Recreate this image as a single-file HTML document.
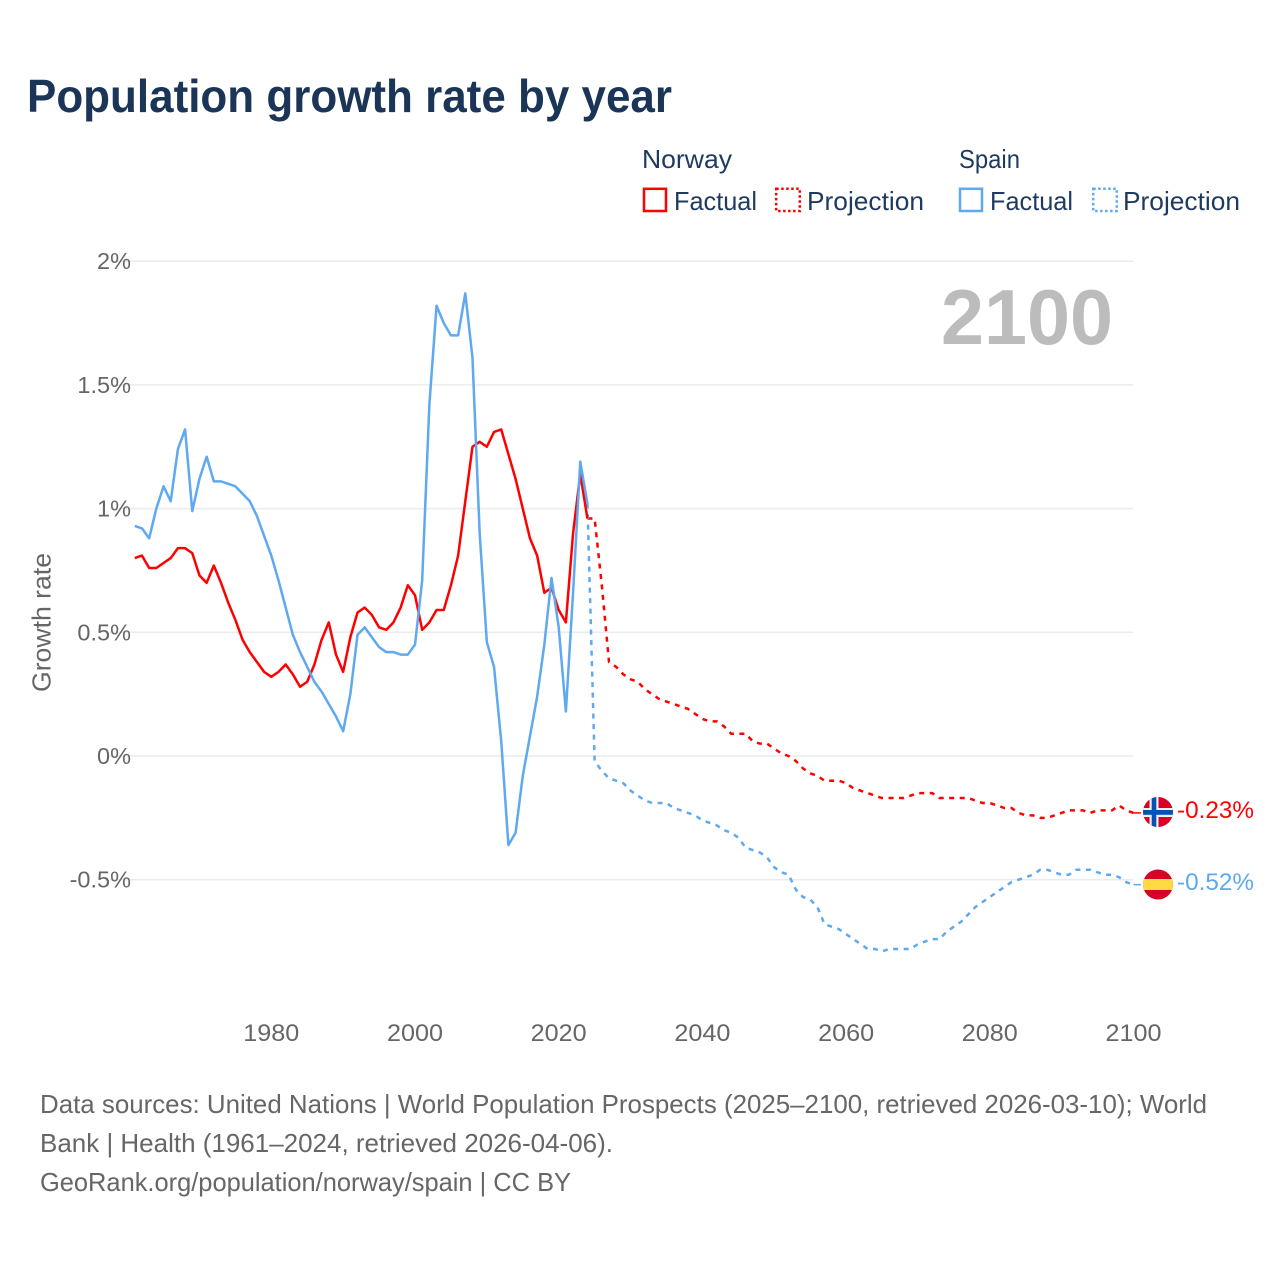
<!DOCTYPE html>
<html lang="en">
<head>
<meta charset="utf-8">
<title>Population growth rate by year</title>
<style>
html,body{margin:0;padding:0;background:#fff;}
svg{display:block;font-family:"Liberation Sans",sans-serif;}
</style>
</head>
<body>
<svg id="chart" width="1280" height="1280" viewBox="0 0 1280 1280" xmlns="http://www.w3.org/2000/svg">
  <defs>
    <clipPath id="clip-no"><circle cx="1158" cy="812" r="15"/></clipPath>
    <clipPath id="clip-es"><circle cx="1158" cy="884.5" r="15"/></clipPath>
  </defs>
  <rect width="1280" height="1280" fill="#fff"/>
  <text x="27" y="112" font-size="46" font-weight="700" fill="#1a3557" textLength="645" lengthAdjust="spacingAndGlyphs">Population growth rate by year</text>

  <g font-size="26" fill="#1f3a5f">
    <text x="642" y="168" textLength="90" lengthAdjust="spacingAndGlyphs">Norway</text>
    <text x="959" y="168" textLength="61" lengthAdjust="spacingAndGlyphs">Spain</text>
    <rect x="644" y="188.8" width="22" height="22.2" fill="none" stroke="#ff0000" stroke-width="2.5"/>
    <text x="674" y="210" textLength="83" lengthAdjust="spacingAndGlyphs">Factual</text>
    <rect x="776.2" y="188.8" width="23.6" height="22.2" fill="none" stroke="#ff0000" stroke-width="2.5" stroke-dasharray="2.5 2.5"/>
    <text x="807" y="210" textLength="117" lengthAdjust="spacingAndGlyphs">Projection</text>
    <rect x="960" y="188.8" width="22" height="22.2" fill="none" stroke="#5ea9ef" stroke-width="2.5"/>
    <text x="990" y="210" textLength="83" lengthAdjust="spacingAndGlyphs">Factual</text>
    <rect x="1093.2" y="188.8" width="23.6" height="22.2" fill="none" stroke="#5ea9ef" stroke-width="2.5" stroke-dasharray="2.5 2.5"/>
    <text x="1123" y="210" textLength="117" lengthAdjust="spacingAndGlyphs">Projection</text>
  </g>

  <g id="grid"></g>
  <g id="yticks"></g>
  <g id="xticks"></g>
  <text transform="translate(50.5,692) rotate(-90)" font-size="26" fill="#666" textLength="139" lengthAdjust="spacingAndGlyphs">Growth rate</text>
  <text x="941" y="344" font-size="78" font-weight="700" fill="#bcbcbc" textLength="172" lengthAdjust="spacingAndGlyphs">2100</text>

  <g id="series"></g>

  <g clip-path="url(#clip-no)">
    <rect x="1143" y="797" width="30" height="30" fill="#d80027"/>
    <rect x="1149.5" y="797" width="9" height="30" fill="#f0f0f0"/>
    <rect x="1143" y="808" width="30" height="9" fill="#f0f0f0"/>
    <rect x="1151.7" y="797" width="4.6" height="30" fill="#0052b4"/>
    <rect x="1143" y="810" width="30" height="4.8" fill="#0052b4"/>
  </g>
  <g clip-path="url(#clip-es)">
    <rect x="1143" y="869" width="30" height="31" fill="#d80027"/>
    <rect x="1143" y="879" width="30" height="11" fill="#ffda44"/>
  </g>
  <text x="1177" y="818" font-size="24" fill="#ff0000" textLength="77" lengthAdjust="spacingAndGlyphs">-0.23%</text>
  <text x="1177" y="890" font-size="24" fill="#5ea9ef" textLength="77" lengthAdjust="spacingAndGlyphs">-0.52%</text>

  <g font-size="26" fill="#666">
    <text x="40" y="1113" textLength="1167" lengthAdjust="spacingAndGlyphs">Data sources: United Nations | World Population Prospects (2025–2100, retrieved 2026-03-10); World</text>
    <text x="40" y="1152" textLength="573" lengthAdjust="spacingAndGlyphs">Bank | Health (1961–2024, retrieved 2026-04-06).</text>
    <text x="40" y="1191" textLength="531" lengthAdjust="spacingAndGlyphs">GeoRank.org/population/norway/spain | CC BY</text>
  </g>
</svg>
<script>
const yTickValues = [2, 1.5, 1, 0.5, 0, -0.5];
const yTickLabels = ["2%", "1.5%", "1%", "0.5%", "0%", "-0.5%"];
const xTickYears = [1980, 2000, 2020, 2040, 2060, 2080, 2100];
const factualStartYear = 1961;
const projectionStartYear = 2024;
const norwayFactual = [0.80,0.81,0.76,0.76,0.78,0.80,0.84,0.84,0.82,0.73,0.70,0.77,0.70,0.62,0.55,0.47,0.42,0.38,0.34,0.32,0.34,0.37,0.33,0.28,0.30,0.37,0.47,0.54,0.41,0.34,0.48,0.58,0.60,0.57,0.52,0.51,0.54,0.60,0.69,0.65,0.51,0.54,0.59,0.59,0.69,0.81,1.03,1.25,1.27,1.25,1.31,1.32,1.22,1.12,1.00,0.88,0.81,0.66,0.68,0.59,0.54,0.90,1.14,0.96];
const spainFactual = [0.93,0.92,0.88,1.00,1.09,1.03,1.24,1.32,0.99,1.12,1.21,1.11,1.11,1.10,1.09,1.06,1.03,0.97,0.89,0.81,0.71,0.60,0.49,0.42,0.36,0.30,0.26,0.21,0.16,0.10,0.25,0.49,0.52,0.48,0.44,0.42,0.42,0.41,0.41,0.45,0.71,1.42,1.82,1.75,1.70,1.70,1.87,1.61,0.90,0.46,0.36,0.06,-0.36,-0.31,-0.08,0.08,0.24,0.45,0.72,0.52,0.18,0.66,1.19,1.02];
const norwayProjection = [0.96,0.96,0.69,0.38,0.36,0.33,0.31,0.30,0.27,0.25,0.23,0.22,0.21,0.20,0.19,0.17,0.15,0.14,0.14,0.12,0.09,0.09,0.09,0.06,0.05,0.05,0.03,0.01,0.00,-0.02,-0.05,-0.07,-0.08,-0.10,-0.10,-0.10,-0.11,-0.13,-0.14,-0.15,-0.16,-0.17,-0.17,-0.17,-0.17,-0.16,-0.15,-0.15,-0.15,-0.17,-0.17,-0.17,-0.17,-0.17,-0.18,-0.19,-0.19,-0.20,-0.21,-0.21,-0.23,-0.24,-0.24,-0.25,-0.25,-0.24,-0.23,-0.22,-0.22,-0.22,-0.23,-0.22,-0.22,-0.22,-0.20,-0.22,-0.23];
const spainProjection = [1.02,-0.02,-0.06,-0.09,-0.10,-0.11,-0.14,-0.16,-0.18,-0.19,-0.19,-0.19,-0.21,-0.22,-0.23,-0.24,-0.26,-0.27,-0.28,-0.30,-0.31,-0.33,-0.37,-0.38,-0.39,-0.41,-0.45,-0.47,-0.48,-0.54,-0.57,-0.58,-0.61,-0.68,-0.69,-0.70,-0.72,-0.74,-0.76,-0.78,-0.78,-0.79,-0.78,-0.78,-0.78,-0.78,-0.76,-0.75,-0.74,-0.74,-0.71,-0.69,-0.67,-0.64,-0.61,-0.59,-0.57,-0.55,-0.53,-0.51,-0.50,-0.49,-0.48,-0.46,-0.46,-0.47,-0.48,-0.48,-0.46,-0.46,-0.46,-0.47,-0.48,-0.48,-0.49,-0.51,-0.52];

const SVGNS = "http://www.w3.org/2000/svg";
const RED = "#ff0000";
const BLUE = "#5ea9ef";
const connectorEndX = 1141;
function xScale(year) { return 1133.5 - (2100 - year) * 7.185; }
function yScale(value) { return 756 - value * 247.4; }

const gridGroup = document.getElementById("grid");
const yTickGroup = document.getElementById("yticks");
const xTickGroup = document.getElementById("xticks");
const seriesGroup = document.getElementById("series");

yTickValues.forEach(function (v, i) {
  const line = document.createElementNS(SVGNS, "line");
  
  
  line.setAttribute("x1", 110);
  line.setAttribute("x2", 1133);
  line.setAttribute("y1", yScale(v));
  line.setAttribute("y2", yScale(v));
  line.setAttribute("stroke", "#ebebeb");
  line.setAttribute("stroke-width", "1.5");
  gridGroup.appendChild(line);

  const t = document.createElementNS(SVGNS, "text");
  
  
  t.setAttribute("x", 131);
  t.setAttribute("y", yScale(v) + 8);
  t.setAttribute("text-anchor", "end");
  t.setAttribute("font-size", "23.5");
  t.setAttribute("fill", "#666");
  t.textContent = yTickLabels[i];
  yTickGroup.appendChild(t);
});

xTickYears.forEach(function (year) {
  const t = document.createElementNS(SVGNS, "text");
  
  
  t.setAttribute("x", xScale(year));
  t.setAttribute("y", 1041);
  t.setAttribute("text-anchor", "middle");
  t.setAttribute("font-size", "24.5");
  t.setAttribute("fill", "#666");
  t.setAttribute("textLength", "56");
  t.setAttribute("lengthAdjust", "spacingAndGlyphs");
  t.textContent = String(year);
  xTickGroup.appendChild(t);
});

function linePath(values, startYear) {
  return values.map(function (v, i) {
    return (i ? "L" : "M") + xScale(startYear + i).toFixed(2) + " " + yScale(v).toFixed(2);
  }).join(" ");
}

function addSeries(values, startYear, color, dashed) {
  const p = document.createElementNS(SVGNS, "path");
  p.setAttribute("d", linePath(values, startYear));
  p.setAttribute("fill", "none");
  p.setAttribute("stroke", color);
  p.setAttribute("stroke-width", "2.5");
  p.setAttribute("stroke-linejoin", "round");
  if (dashed) p.setAttribute("stroke-dasharray", "5 5.5");
  seriesGroup.appendChild(p);
  return p;
}

function addConnector(value, color) {
  const c = document.createElementNS(SVGNS, "line");
  c.setAttribute("x1", xScale(2100));
  c.setAttribute("x2", connectorEndX);
  c.setAttribute("y1", yScale(value));
  c.setAttribute("y2", yScale(value));
  c.setAttribute("stroke", color);
  c.setAttribute("stroke-width", "1.5");
  seriesGroup.appendChild(c);
  return c;
}

const pathNorwayProjection = addSeries(norwayProjection, projectionStartYear, RED, true);


const pathSpainProjection = addSeries(spainProjection, projectionStartYear, BLUE, true);


const pathNorwayFactual = addSeries(norwayFactual, factualStartYear, RED, false);


const pathSpainFactual = addSeries(spainFactual, factualStartYear, BLUE, false);


const connectorNorway = addConnector(norwayProjection[norwayProjection.length - 1], RED);


const connectorSpain = addConnector(spainProjection[spainProjection.length - 1], BLUE);


</script>
</body>
</html>
